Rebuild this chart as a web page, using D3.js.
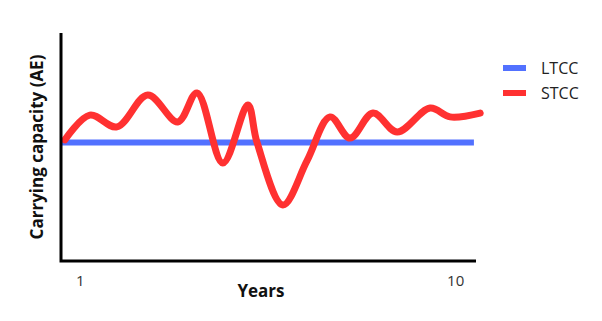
<!DOCTYPE html>
<html>
<head>
<meta charset="utf-8">
<script src="https://cdn.jsdelivr.net/npm/d3@7"></script>
<style>
body{margin:0;background:#fff;}
text{font-family:"Open Sans",sans-serif;}
</style>
</head>
<body>
<div id="chart"></div>
<script>
// values
var tickYears = [1, 10];
var ltccYears = [0.55, 10.45];
var ltccValues = [5.2, 5.2];
var stccYears = [0.64, 1.24, 1.89, 2.63, 3.35, 3.81, 4.43, 5.03, 5.25, 5.87, 6.45, 7.0, 7.48, 8.03, 8.61, 9.4, 9.88, 10.6];
var stccValues = [5.31, 6.4, 5.88, 7.28, 6.1, 7.37, 4.3, 6.84, 5.2, 2.46, 4.4, 6.32, 5.39, 6.49, 5.66, 6.71, 6.32, 6.49];
var legendNames = ["LTCC", "STCC"];
var legendColors = ["#5271ff", "#ff3131"];

var svg = d3.select("#chart").append("svg")
    .attr("width", 602)
    .attr("height", 321);

var x = d3.scaleLinear().domain([0.55, 10.5]).range([61, 476]);
var y = d3.scaleLinear().domain([0, 10]).range([261, 33]);

var line = d3.line()
    .x(function(d){ return x(d[0]); })
    .y(function(d){ return y(d[1]); });

// LTCC
svg.append("path")
    .datum(d3.zip(ltccYears, ltccValues))
    .attr("d", line)
    .attr("fill", "none")
    .attr("stroke", legendColors[0])
    .attr("stroke-width", 6);

// STCC
svg.append("path")
    .datum(d3.zip(stccYears, stccValues))
    .attr("d", line.curve(d3.curveCatmullRom.alpha(0.5)))
    .attr("fill", "none")
    .attr("stroke", legendColors[1])
    .attr("stroke-width", 7)
    .attr("stroke-linecap", "round")
    .attr("stroke-linejoin", "round");

// axes
svg.append("path")
    .attr("d", "M" + x.range()[0] + "," + y.range()[1] + "V" + y.range()[0] + "H" + x.range()[1])
    .attr("fill", "none")
    .attr("stroke", "#000")
    .attr("stroke-width", 3);

var xAxis = d3.axisBottom(x).tickValues(tickYears).tickSize(0).tickPadding(13);
var gx = svg.append("g").attr("transform", "translate(0,262)").call(xAxis);
gx.select(".domain").remove();
gx.selectAll("text")
    .attr("font-family", "'Open Sans',sans-serif")
    .attr("font-size", 15)
    .attr("fill", "#333");

svg.append("text")
    .attr("x", 261)
    .attr("y", 297)
    .attr("text-anchor", "middle")
    .attr("font-size", 17)
    .attr("font-weight", "bold")
    .attr("fill", "#111")
    .text("Years");

svg.append("text")
    .attr("transform", "translate(43,147) rotate(-90)")
    .attr("text-anchor", "middle")
    .attr("font-size", 17)
    .attr("font-weight", "bold")
    .attr("fill", "#111")
    .text("Carrying capacity (AE)");

// legend
var leg = svg.selectAll(".leg")
    .data(legendNames)
    .enter()
    .append("g")
    .attr("class", "leg")
    .attr("transform", function(d, i){ return "translate(503," + (68 + i * 25) + ")"; });
leg.append("rect")
    .attr("x", 0).attr("y", -3)
    .attr("width", 23).attr("height", 6)
    .attr("fill", function(d, i){ return legendColors[i]; });
leg.append("text")
    .attr("x", 38).attr("y", 6)
    .attr("font-size", 16)
    .attr("fill", "#222")
    .text(function(d){ return d; });
</script>
</body>
</html>
